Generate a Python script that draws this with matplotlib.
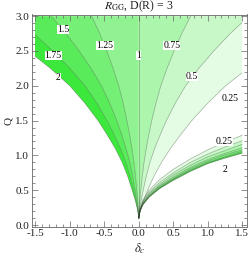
import numpy as np
import matplotlib
matplotlib.use("Agg")
import matplotlib.pyplot as plt
from matplotlib.patches import Rectangle, Polygon
from matplotlib.ticker import MultipleLocator, FormatStrFormatter

plt.rcParams["font.family"] = ["Liberation Serif", "DejaVu Serif"]
plt.rcParams["mathtext.fontset"] = "stix"

# ---------------- data ----------------
levels = [0.25, 0.5, 0.75, 1.0, 1.25, 1.5, 1.75, 2.0]

# upper region: delta_c of each contour at these Q values
q_upper = [0.10, 0.15, 0.25, 0.35, 0.50, 0.70, 0.90, 1.10, 1.30, 1.50, 1.75, 2.00, 2.25, 2.50, 2.75, 3.00]
d_up_200 = [0, -0.006, -0.025, -0.050, -0.095, -0.160, -0.240, -0.340, -0.460, -0.590, -0.780, -1.000, -1.280, -1.600, -1.950, -2.350]
d_up_175 = [0, -0.005, -0.020, -0.039, -0.074, -0.125, -0.187, -0.265, -0.359, -0.460, -0.608, -0.780, -0.998, -1.248, -1.521, -1.833]
d_up_150 = [0, -0.003, -0.014, -0.027, -0.051, -0.086, -0.130, -0.184, -0.248, -0.319, -0.421, -0.540, -0.691, -0.864, -1.053, -1.269]
d_up_125 = [0, -0.002, -0.007, -0.015, -0.028, -0.046, -0.070, -0.099, -0.133, -0.171, -0.226, -0.290, -0.371, -0.464, -0.566, -0.682]
d_up_100 = [0, 0, 0, 0, 0, 0, 0, 0, 0, 0, 0, 0, 0, 0, 0, 0]
d_up_075 = [0, 0.002, 0.008, 0.016, 0.030, 0.051, 0.077, 0.109, 0.147, 0.189, 0.250, 0.320, 0.410, 0.512, 0.624, 0.752]
d_up_050 = [0, 0.004, 0.017, 0.034, 0.065, 0.109, 0.163, 0.231, 0.313, 0.401, 0.530, 0.680, 0.870, 1.088, 1.326, 1.598]
d_up_025 = [0, 0.008, 0.035, 0.070, 0.130, 0.220, 0.330, 0.460, 0.610, 0.770, 1.000, 1.260, 1.580, 1.970, 2.400, 2.900]

# lower-right band: Q of each contour at these delta_c values
d_band = [0.0, 0.02, 0.06, 0.15, 0.30, 0.50, 0.75, 1.00, 1.25, 1.50]
q_bd_025 = [0.10, 0.24, 0.36, 0.50, 0.65, 0.80, 0.95, 1.08, 1.19, 1.29]
q_bd_050 = [0.10, 0.23, 0.34, 0.47, 0.61, 0.75, 0.90, 1.02, 1.12, 1.21]
q_bd_075 = [0.10, 0.22, 0.32, 0.45, 0.58, 0.72, 0.86, 0.98, 1.07, 1.16]
q_bd_100 = [0.10, 0.21, 0.31, 0.43, 0.56, 0.69, 0.83, 0.94, 1.03, 1.11]
q_bd_125 = [0.10, 0.21, 0.30, 0.42, 0.55, 0.67, 0.81, 0.92, 1.01, 1.08]
q_bd_150 = [0.10, 0.20, 0.30, 0.41, 0.53, 0.66, 0.79, 0.90, 0.98, 1.06]
q_bd_175 = [0.10, 0.20, 0.29, 0.40, 0.53, 0.65, 0.78, 0.89, 0.97, 1.04]
q_bd_200 = [0.10, 0.20, 0.29, 0.40, 0.52, 0.64, 0.77, 0.88, 0.96, 1.03]

x_ticks = [-1.5, -1.0, -0.5, 0.0, 0.5, 1.0, 1.5]
y_ticks = [0.0, 0.5, 1.0, 1.5, 2.0, 2.5, 3.0]

title = r"$R_{\rm GG}$, D(R) = 3"
xlabel = r"$\delta_c$"
ylabel = "Q"

# contour labels: (text, delta, Q)
contour_labels = [
    ("1.5", -1.10, 2.81), ("1.75", -1.24, 2.44), ("2", -1.17, 2.12),
    ("1.25", -0.49, 2.58), ("1", 0.0, 2.44), ("0.75", 0.48, 2.58),
    ("0.5", 0.77, 2.13), ("0.25", 1.33, 1.82),
    ("0.25", 1.245, 1.20), ("2", 1.245, 0.80),
]

upper = [d_up_025, d_up_050, d_up_075, d_up_100, d_up_125, d_up_150, d_up_175, d_up_200]
band = [q_bd_025, q_bd_050, q_bd_075, q_bd_100, q_bd_125, q_bd_150, q_bd_175, q_bd_200]

# ---------------- figure ----------------
fig = plt.figure(figsize=(2.49, 2.56), dpi=100)
ax = fig.add_axes([32 / 249, 1 - 226.7 / 256, 214.5 / 249, 212.2 / 256])
ax.set_xlim(-1.548, 1.563)
ax.set_ylim(-0.024, 3.024)

green = np.array([0.24, 0.91, 0.24])
def band_color(i):
    t = (i + 1) / 7.0
    return tuple(1 - t * (1 - green))

clip = Rectangle((-1.5, 0), 3.0, 3.0, transform=ax.transData)

# upper region fills
for i in range(7):
    a = upper[i]
    b = upper[i + 1]
    pts = list(zip(a, q_upper)) + list(zip(b[::-1], q_upper[::-1]))
    poly = Polygon(pts, closed=True, facecolor=band_color(i), edgecolor="none", zorder=1)
    ax.add_patch(poly)
    poly.set_clip_path(clip)

# lower band fills
for i in range(7):
    ax.fill_between(d_band, band[i + 1], band[i], facecolor=band_color(i),
                    edgecolor="none", zorder=1)

line_kw = dict(color=(0.15, 0.25, 0.15, 0.4), lw=0.5, zorder=2)
for d in upper:
    ln, = ax.plot(d, q_upper, **line_kw)
    ln.set_clip_path(clip)
for q in band:
    ax.plot(d_band, q, **line_kw)

for txt, x, y in contour_labels:
    ax.text(x, y, txt, fontsize=7, ha="center", va="center", zorder=4,
            bbox=dict(facecolor="white", edgecolor="none", pad=0.1))

# ticks and frame
ax.set_xticks(x_ticks)
ax.set_yticks(y_ticks)
ax.xaxis.set_major_formatter(FormatStrFormatter("%.1f"))
ax.yaxis.set_major_formatter(FormatStrFormatter("%.1f"))
ax.xaxis.set_minor_locator(MultipleLocator(0.1))
ax.yaxis.set_minor_locator(MultipleLocator(0.1))
ax.tick_params(which="both", direction="in", top=True, right=True,
               width=0.5, color="#666666", labelsize=8, labelcolor="#222222", pad=2)
ax.tick_params(which="major", length=4)
ax.tick_params(which="minor", length=2)
for s in ax.spines.values():
    s.set_color("#666666")
    s.set_linewidth(0.6)

ax.set_title(title, fontsize=8.5, pad=1.0, color="#222222")
ax.set_xlabel(xlabel, fontsize=9, labelpad=2, color="#222222")
ax.set_ylabel(ylabel, fontsize=8, labelpad=2, color="#222222")

fig.savefig("out.png", dpi=100)
